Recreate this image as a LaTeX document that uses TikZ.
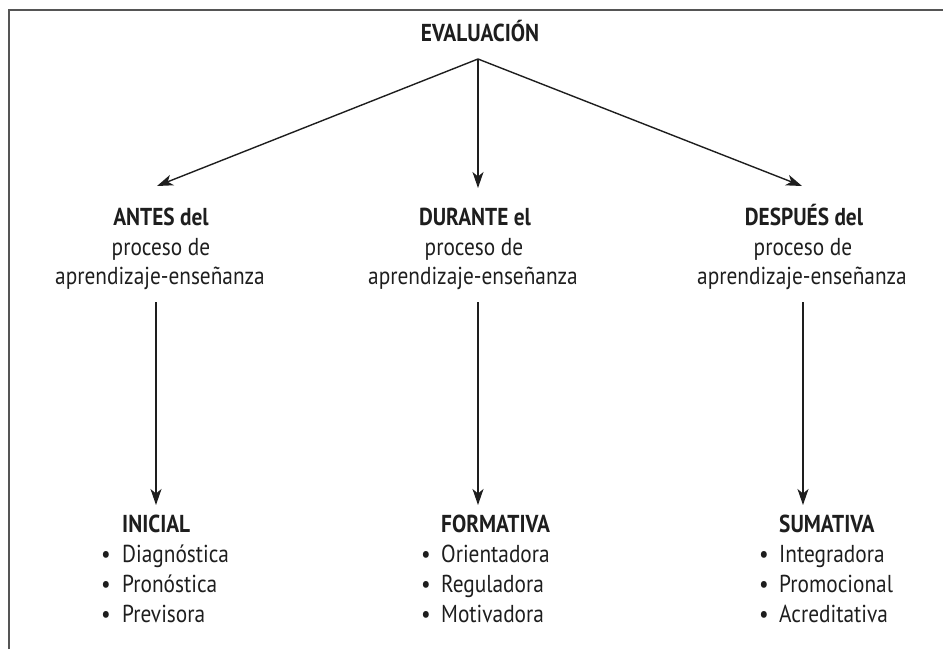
\documentclass[tikz,border=0pt]{standalone}
\usepackage{fontspec}
\setmainfont{PT Sans}[FakeStretch=0.87]
\usetikzlibrary{arrows.meta}
\definecolor{ink}{HTML}{1E1E1E}
\definecolor{framegray}{HTML}{555555}
\tikzset{
  txt/.style={inner sep=0pt, anchor=base, text=ink, font=\fontsize{24.5}{30}\selectfont},
  btxt/.style={txt, font=\fontsize{24.5}{30}\selectfont\bfseries},
  ltxt/.style={txt, anchor=base west},
  lbtxt/.style={btxt, anchor=base west},
  bul/.style={txt},
  arr/.style={draw=ink, line width=1.4pt, -{Stealth[length=16pt,width=11pt,inset=4.5pt]}},
  framel/.style={draw=framegray, line width=2pt}
}
\begin{document}
\begin{tikzpicture}[x=1pt,y=-1pt]
\useasboundingbox (0,0) rectangle (943,649);
\draw[framel] (9,649) -- (9,10) -- (943,10);

\node[btxt] (eval) at (480,41) {EVALUACIÓN};
\coordinate (apex) at (478,59);

% column headers
\node[btxt] (hA) at (161,225) {ANTES del};
\node[txt]  (pA) at (161,255) {proceso de};
\node[txt]  (aA) at (160,284) {aprendizaje-enseñanza};
\node[btxt] (hB) at (475,225) {DURANTE el};
\node[txt]  (pB) at (474,255) {proceso de};
\node[txt]  (aB) at (473,284) {aprendizaje-enseñanza};
\node[btxt] (hC) at (804,225) {DESPUÉS del};
\node[txt]  (pC) at (803,255) {proceso de};
\node[txt]  (aC) at (802,284) {aprendizaje-enseñanza};

\coordinate (tA) at (157,186);
\coordinate (tB) at (478,188);
\coordinate (tC) at (802,186);
\draw[arr] (apex) -- (tA);
\draw[arr] (apex) -- (tB);
\draw[arr] (apex) -- (tC);

\coordinate (sA) at (156,302);
\coordinate (eA) at (156,505);
\coordinate (sB) at (478,302);
\coordinate (eB) at (478,505);
\coordinate (sC) at (803,302);
\coordinate (eC) at (803,505);
\draw[arr] (sA) -- (eA);
\draw[arr] (sB) -- (eB);
\draw[arr] (sC) -- (eC);

% lists
\node[lbtxt] (iA) at (122,532) {INICIAL};
\node[bul] (bA1) at (106,562) {•};
\node[ltxt] (A1) at (122,562) {Diagnóstica};
\node[bul] (bA2) at (106,592) {•};
\node[ltxt] (A2) at (122,592) {Pronóstica};
\node[bul] (bA3) at (106,622) {•};
\node[ltxt] (A3) at (122,622) {Previsora};

\node[lbtxt] (iB) at (441,532) {FORMATIVA};
\node[bul] (bB1) at (426,562) {•};
\node[ltxt] (B1) at (441,562) {Orientadora};
\node[bul] (bB2) at (426,592) {•};
\node[ltxt] (B2) at (441,592) {Reguladora};
\node[bul] (bB3) at (426,622) {•};
\node[ltxt] (B3) at (441,622) {Motivadora};

\node[lbtxt] (iC) at (779,532) {SUMATIVA};
\node[bul] (bC1) at (764,562) {•};
\node[ltxt] (C1) at (779,562) {Integradora};
\node[bul] (bC2) at (764,592) {•};
\node[ltxt] (C2) at (779,592) {Promocional};
\node[bul] (bC3) at (764,622) {•};
\node[ltxt] (C3) at (779,622) {Acreditativa};
\end{tikzpicture}
\end{document}
